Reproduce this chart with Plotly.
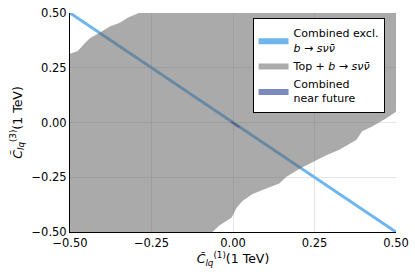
import plotly.graph_objects as go

# Data
# Gray allowed region (Top + b->s nu nubar): upper-left boundary and lower-right boundary
top_left_x = [-0.5, -0.476, -0.454, -0.439, -0.408, -0.378, -0.347, -0.323, -0.289]
top_left_y = [0.314, 0.327, 0.363, 0.385, 0.411, 0.438, 0.456, 0.478, 0.5]
right_x = [0.5, 0.469, 0.427, 0.396, 0.378, 0.326, 0.286, 0.243, 0.203, 0.164,
           0.142, 0.102, 0.060, 0.029, 0.011, -0.004, -0.041, -0.063]
right_y = [0.049, 0.018, -0.018, -0.040, -0.080, -0.124, -0.150, -0.181, -0.212, -0.248,
           -0.279, -0.301, -0.327, -0.358, -0.389, -0.434, -0.469, -0.5]
# Combined excl. b->s nu nubar (thin band along a line)
comb_x = [-0.5, 0.5]
comb_y = [0.5, -0.5]
# Combined near future (tiny region near origin)
near_x = [-0.006, 0.02]
near_y = [0.004, -0.022]

tick_vals = [-0.5, -0.25, 0.0, 0.25, 0.5]
tick_text = ["\u22120.50", "\u22120.25", "0.00", "0.25", "0.50"]

blue = "#6fb6ef"
gray_fill = "rgba(100,100,100,0.55)"
near_col = "#4b63a8"

# polygon: start at top boundary point, go to top-right corner, down right boundary,
# to bottom-left corner, up left boundary back to start
poly_x = [top_left_x[-1], 0.5] + right_x + [-0.5] + top_left_x
poly_y = [top_left_y[-1], 0.5] + right_y + [-0.5] + top_left_y

fig = go.Figure()
fig.add_trace(go.Scatter(x=comb_x, y=comb_y, mode="lines",
                         line=dict(color=blue, width=3), showlegend=False,
                         hoverinfo="skip"))
fig.add_trace(go.Scatter(x=near_x, y=near_y, mode="lines",
                         line=dict(color=near_col, width=2), showlegend=False,
                         hoverinfo="skip"))
fig.add_trace(go.Scatter(x=poly_x, y=poly_y, mode="lines", fill="toself",
                         fillcolor=gray_fill, line=dict(width=0),
                         showlegend=False, hoverinfo="skip"))

# legend entries
fig.add_trace(go.Scatter(x=[None], y=[None], mode="lines", fill="toself",
                         fillcolor=blue, line=dict(width=0, color=blue),
                         name="Combined excl.<br><i>b</i> \u2192 <i>s\u03bd\u03bd\u0304</i>"))
fig.add_trace(go.Scatter(x=[None], y=[None], mode="lines", fill="toself",
                         fillcolor="#ababab", line=dict(width=0, color="#ababab"),
                         name="Top + <i>b</i> \u2192 <i>s\u03bd\u03bd\u0304</i>"))
fig.add_trace(go.Scatter(x=[None], y=[None], mode="lines", fill="toself",
                         fillcolor="#7b8abd", line=dict(width=0, color="#7b8abd"),
                         name="Combined<br>near future"))

axis_common = dict(range=[-0.5, 0.5], tickvals=tick_vals, ticktext=tick_text,
                   showgrid=True, gridcolor="rgba(0,0,0,0.1)", gridwidth=1,
                   zeroline=False, showline=True, linecolor="black", linewidth=1,
                   ticks="", tickfont=dict(size=11.5, color="black"),
                   ticklabeloverflow="allow", mirror=False)

fig.update_layout(
    width=415, height=277,
    margin=dict(l=70, r=18, t=6, b=45),
    paper_bgcolor="white", plot_bgcolor="white",
    font=dict(family="DejaVu Sans", color="black"),
    xaxis=dict(**axis_common,
               title=dict(text="<i>C\u0303</i><sub><i>lq</i></sub><sup>(1)</sup>(1 TeV)",
                          font=dict(size=12.5), standoff=4)),
    yaxis=dict(**axis_common,
               title=dict(text="<i>C\u0303</i><sub><i>lq</i></sub><sup>(3)</sup>(1 TeV)",
                          font=dict(size=12.5), standoff=6)),
    legend=dict(x=0.56, y=0.975, xanchor="left", yanchor="top",
                bgcolor="white", bordercolor="black", borderwidth=1,
                font=dict(size=11), tracegroupgap=2, itemwidth=30),
    showlegend=True,
)

fig.write_html("out.html", config={"displayModeBar": False},
               post_script="document.body.style.margin='0';document.body.style.overflow='hidden';")
